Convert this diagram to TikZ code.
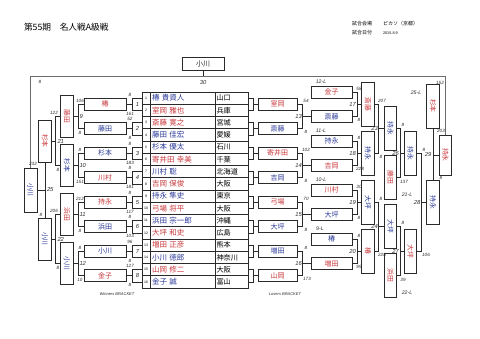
\documentclass[tikz,border=0pt]{standalone}
\usepackage{fontspec}
\usepackage{graphicx}
\setmainfont{Liberation Serif}
\newfontfamily\jp{Noto Sans CJK JP}
\newfontfamily\lsans{Liberation Sans}
\definecolor{rd}{HTML}{C8383C}
\definecolor{bl}{HTML}{2B3A97}
\definecolor{ln}{HTML}{2A2A2A}
\newcommand\vtx[2]{\rotatebox{-90}{\textcolor{#1}{#2}}}
\begin{document}
\begin{tikzpicture}[x=1pt,y=-1pt,
 every node/.style={inner sep=0pt,outer sep=0pt},
 cn/.style={draw=ln,line width=0.65pt},
 outerln/.style={draw=gray!85!black,line width=1.2pt},
 hb/.style={draw=ln,line width=0.8pt,minimum width=42pt,minimum height=12pt,font=\jp\fontsize{7}{7}\selectfont},
 lb/.style={hb,minimum width=39pt},
 rb/.style={hb,minimum width=41pt},
 vb/.style={draw=ln,line width=0.8pt,minimum width=12.5pt,minimum height=44pt,font=\jp\fontsize{6.8}{6.8}\selectfont},
 vbs/.style={vb,minimum height=42pt},
 sc/.style={font=\lsans\itshape\fontsize{4.6}{4.6}\selectfont,text=ln},
 mn/.style={font=\lsans\itshape\fontsize{5.8}{5.8}\selectfont,text=ln},
 lt/.style={font=\lsans\itshape\fontsize{5.2}{5.2}\selectfont,text=ln},
 numc/.style={draw=ln,line width=0.65pt,minimum width=8pt,minimum height=12.25pt,font=\lsans\fontsize{3.5}{3.5}\selectfont},
 namec/.style={draw=ln,line width=0.65pt,minimum width=65pt,minimum height=12.25pt,text width=61pt,align=left,font=\jp\fontsize{7.5}{7.5}\selectfont},
 prefc/.style={draw=ln,line width=0.65pt,minimum width=33pt,minimum height=12.25pt,text width=30pt,align=left,font=\jp\fontsize{7.2}{7.2}\selectfont},
]
\fill[white] (0,0) rectangle (480,339);
\useasboundingbox (0,0) rectangle (480,339);

% header
\node[anchor=west,font=\jp\fontsize{8.7}{8.7}\selectfont] (title) at (24,27) {第55期　名人戦A級戦};
\node[anchor=west,font=\jp\fontsize{5}{5}\selectfont] (h1) at (352,24) {試合会場};
\node[anchor=west,font=\jp\fontsize{5}{5}\selectfont] (h2) at (383,24) {ピカソ（京都）};
\node[anchor=west,font=\jp\fontsize{5}{5}\selectfont] (h3) at (352,33) {試合日付};
\node[anchor=west,font=\lsans\fontsize{3.8}{3.8}\selectfont] (h4) at (383,33) {2015.8.9};

% table
\foreach \i/\nm/\pf/\c in {1/椿 貴資人/山口/bl,2/室岡 雅也/兵庫/rd,3/斎藤 寛之/宮城/rd,4/藤田 佳宏/愛媛/bl,5/杉本 優太/石川/bl,6/寄井田 幸美/千葉/rd,7/川村 聡/北海道/bl,8/吉岡 保俊/大阪/rd,9/持永 隼史/東京/bl,10/弓場 将平/大阪/rd,11/浜田 宗一郎/沖縄/bl,12/大坪 和史/広島/rd,13/増田 正彦/熊本/rd,14/小川 徳郎/神奈川/bl,15/山岡 修二/大阪/rd,16/金子 誠/富山/bl}{
  \pgfmathsetmacro\yy{92+12.25*(\i-0.5)}
  \node[numc] (n\i) at (146,\yy) {\i};
  \node[namec,text=\c] (p\i) at (182.5,\yy) {\nm};
  \node[prefc] (q\i) at (231.5,\yy) {\pf};
}

% winners round 1 boxes
\foreach \k/\nm/\c in {1/椿/rd,2/藤田/bl,3/杉本/bl,4/川村/rd,5/持永/rd,6/浜田/bl,7/小川/bl,8/金子/rd}{
  \pgfmathsetmacro\yy{79.75+24.5*\k}
  \node[hb,text=\c] (w\k) at (105,\yy) {\nm};
  \node[mn] (mn\k) at (137.5,\yy) {\k};
}
% losers round 1 boxes
\foreach \k/\nm/\c in {1/室岡/rd,2/斎藤/bl,3/寄井田/rd,4/吉岡/bl,5/弓場/rd,6/大坪/bl,7/増田/bl,8/山岡/rd}{
  \pgfmathsetmacro\yy{79.75+24.5*\k}
  \node[lb,text=\c] (l\k) at (277.5,\yy) {\nm};
}
\foreach \k in {1,...,8}{
  \pgfmathtruncatemacro\a{2*\k-1}
  \pgfmathtruncatemacro\b{2*\k}
  \draw[cn] (n\a.west) -- ++(-10,0) coordinate (jl\k) |- (n\b.west);
  \draw[cn] (w\k.east) -- (w\k.east -| jl\k);
  \draw[cn] (q\a.east) -- ++(5,0) coordinate (jr\k) |- (q\b.east);
  \draw[cn] (l\k.west) -- (l\k.west -| jr\k);
}

% winners round 2
\node[vbs] (m9) at (67,116.5) {\vtx{rd}{藤田}};
\node[vbs] (m10) at (67,165.5) {\vtx{bl}{杉本}};
\node[vbs] (m11) at (67,214.5) {\vtx{rd}{浜田}};
\node[vbs] (m12) at (67,263.5) {\vtx{bl}{小川}};
\draw[cn] (w1.west) -- ++(-6,0) coordinate (j9) |- (w2.west);
\draw[cn] (m9.east) -- (m9.east -| j9);
\draw[cn] (w3.west) -- ++(-6,0) coordinate (j10) |- (w4.west);
\draw[cn] (m10.east) -- (m10.east -| j10);
\draw[cn] (w5.west) -- ++(-6,0) coordinate (j11) |- (w6.west);
\draw[cn] (m11.east) -- (m11.east -| j11);
\draw[cn] (w7.west) -- ++(-6,0) coordinate (j12) |- (w8.west);
\draw[cn] (m12.east) -- (m12.east -| j12);

% winners round 3
\node[vbs] (m21) at (45,141) {\vtx{rd}{杉本}};
\node[vbs] (m22) at (45,239) {\vtx{bl}{小川}};
\draw[cn] (m9.west) -- ++(-5,0) coordinate (j21) |- (m10.west);
\draw[cn] (m21.east) -- (m21.east -| j21);
\draw[cn] (m11.west) -- ++(-5,0) coordinate (j22) |- (m12.west);
\draw[cn] (m22.east) -- (m22.east -| j22);

% winners final
\node[vb,minimum width=13pt] (m25) at (30.5,190) {\vtx{bl}{小川}};
\draw[cn] (m21.south) -- (m22.north);
\draw[cn] (m25.east) -- (m25.east -| m21.south);

% losers side
\node[rb,text=rd] (x12) at (331.5,92) {金子};
\node[rb,text=bl] (r13) at (331.5,116.5) {斎藤};
\node[rb,text=bl] (x11) at (331.5,141) {持永};
\node[rb,text=rd] (r14) at (331.5,165.5) {吉岡};
\node[rb,text=rd] (x10) at (331.5,190) {川村};
\node[rb,text=bl] (r15) at (331.5,214.5) {大坪};
\node[rb,text=bl] (x9) at (331.5,239) {椿};
\node[rb,text=rd] (r16) at (331.5,263.5) {増田};
\draw[cn] (l1.east) -- ++(5,0) coordinate (j13) |- (l2.east);
\draw[cn] (r13.west) -- (r13.west -| j13);
\draw[cn] (l3.east) -- ++(5,0) coordinate (j14) |- (l4.east);
\draw[cn] (r14.west) -- (r14.west -| j14);
\draw[cn] (l5.east) -- ++(5,0) coordinate (j15) |- (l6.east);
\draw[cn] (r15.west) -- (r15.west -| j15);
\draw[cn] (l7.east) -- ++(5,0) coordinate (j16) |- (l8.east);
\draw[cn] (r16.west) -- (r16.west -| j16);

\node[vb] (m17) at (368,104.25) {\vtx{rd}{斎藤}};
\node[vb] (m18) at (368,153.25) {\vtx{bl}{持永}};
\node[vb] (m19) at (368,202.25) {\vtx{bl}{大坪}};
\node[vb] (m20) at (368,251.25) {\vtx{rd}{椿}};
\draw[cn] (x12.east) -- ++(5,0) coordinate (j17) |- (r13.east);
\draw[cn] (m17.west) -- (m17.west -| j17);
\draw[cn] (x11.east) -- ++(5,0) coordinate (j18) |- (r14.east);
\draw[cn] (m18.west) -- (m18.west -| j18);
\draw[cn] (x10.east) -- ++(5,0) coordinate (j19) |- (r15.east);
\draw[cn] (m19.west) -- (m19.west -| j19);
\draw[cn] (x9.east) -- ++(5,0) coordinate (j20) |- (r16.east);
\draw[cn] (m20.west) -- (m20.west -| j20);

\node[vb] (m23) at (390.5,128.75) {\vtx{bl}{持永}};
\node[vb] (y21) at (390.5,177.75) {\vtx{rd}{藤田}};
\node[vb] (m24) at (390.5,226.75) {\vtx{bl}{大坪}};
\node[vb] (y22) at (390.5,275.75) {\vtx{rd}{浜田}};
\draw[cn] (m17.east) -- ++(4,0) coordinate (j23) |- (m18.east);
\draw[cn] (m23.west) -- (m23.west -| j23);
\draw[cn] (m19.east) -- ++(4,0) coordinate (j24) |- (m20.east);
\draw[cn] (m24.west) -- (m24.west -| j24);

\node[vb] (m26) at (410.5,153.25) {\vtx{bl}{持永}};
\node[vb] (m27) at (410.5,251.25) {\vtx{rd}{大坪}};
\draw[cn] (m23.east) -- ++(3.5,0) coordinate (j26) |- (y21.east);
\draw[cn] (m26.west) -- (m26.west -| j26);
\draw[cn] (m24.east) -- ++(3.5,0) coordinate (j27) |- (y22.east);
\draw[cn] (m27.west) -- (m27.west -| j27);

\node[vb] (y25) at (433,106) {\vtx{rd}{杉本}};
\node[vb] (m28) at (433,202.25) {\vtx{bl}{持永}};
\draw[cn] (m26.east) -- ++(5,0) coordinate (j28) |- (m27.east);
\draw[cn] (m28.west) -- (m28.west -| j28);

\node[vb,minimum height=40pt] (m29) at (445.5,155) {\vtx{rd}{持永}};
\draw[cn] (y25.south) -- (m28.north);
\draw[cn] (m29.west) -- (m29.west -| y25.south);

% final
\node[hb,minimum height=13pt,text=ln] (fin) at (203,63.5) {小川};
\coordinate (top) at (203,76.5);
\draw[outerln] (m25.north) |- (top) -| (m29.north);
\draw[cn] (fin.south) -- (top);

% scores, winners round 1
\node[sc] (a1) at (130,94.6) {8};   \node[sc] (b1) at (130,113.9) {161};
\node[sc] (a2) at (130,119.1) {52};  \node[sc] (b2) at (130,138.4) {8};
\node[sc] (a3) at (130,143.6) {8};   \node[sc] (b3) at (130,162.9) {183};
\node[sc] (a4) at (130,168.1) {8};   \node[sc] (b4) at (130,187.4) {181};
\node[sc] (a5) at (130,192.6) {8};   \node[sc] (b5) at (130,211.9) {117};
\node[sc] (a6) at (130,217.1) {8};   \node[sc] (b6) at (130,236.4) {103};
\node[sc] (a7) at (130,241.6) {96};  \node[sc] (b7) at (130,260.9) {8};
\node[sc] (a8) at (130,266.1) {127}; \node[sc] (b8) at (130,285.4) {8};
% winners round 2
\node[sc] (a9) at (80,100.5) {106};  \node[mn,anchor=west] (mn9) at (79.5,116.5) {9};   \node[sc] (b9) at (80,132.5) {8};
\node[sc] (a10) at (80,149.5) {8};   \node[mn,anchor=west] (mn10) at (79.5,165.5) {10}; \node[sc] (b10) at (80,181.5) {151};
\node[sc] (a11) at (80,198.5) {212}; \node[mn,anchor=west] (mn11) at (79.5,214.5) {11}; \node[sc] (b11) at (80,230.5) {8};
\node[sc] (a12) at (80,247.5) {8};   \node[mn,anchor=west] (mn12) at (79.5,263.5) {12}; \node[sc] (b12) at (80,279.5) {10};
% winners round 3 and final
\node[sc] (a21) at (54,112.5) {122}; \node[mn,anchor=west] (mn21) at (57.5,141) {21}; \node[sc] (b21) at (58,169.5) {8};
\node[sc] (a22) at (54,211) {206};   \node[mn,anchor=west] (mn22) at (57.5,239) {22}; \node[sc] (b22) at (58,267.5) {8};
\node[sc] (a25) at (33,164) {232};   \node[mn,anchor=west] (mn25) at (47,190) {25};   \node[sc] (b25) at (41,215) {8};
\node[sc] (a30) at (40,82) {8}; \node[mn] (mn30) at (203,83) {30}; \node[sc] (b30) at (440,83) {152};
% losers round 1
\node[sc] (a13) at (306,100.7) {54};  \node[mn] (mn13) at (298.5,116.5) {13}; \node[sc] (b13) at (306,132.3) {8};
\node[sc] (a14) at (306,149.7) {102}; \node[mn] (mn14) at (298.5,165.5) {14}; \node[sc] (b14) at (306,181.3) {8};
\node[sc] (a15) at (306,198.7) {70};  \node[mn] (mn15) at (298.5,214.5) {15}; \node[sc] (b15) at (306,230.3) {8};
\node[sc] (a16) at (306,247.7) {8};   \node[mn] (mn16) at (298.5,263.5) {16}; \node[sc] (b16) at (307,279.3) {173};
% losers round 2
\node[sc] (a17) at (359,88.5) {58};  \node[mn] (mn17) at (352.5,104.25) {17}; \node[sc] (b17) at (359,120) {8};
\node[sc] (a18) at (359,137.5) {8};  \node[mn] (mn18) at (352.5,153.25) {18}; \node[sc] (b18) at (360,169) {228};
\node[sc] (a19) at (359,186.5) {30}; \node[mn] (mn19) at (352.5,202.25) {19}; \node[sc] (b19) at (359,218) {8};
\node[sc] (a20) at (359,235.5) {8};  \node[mn] (mn20) at (352.5,251.25) {20}; \node[sc] (b20) at (359,267) {99};
% losers later rounds
\node[sc] (a23) at (382,100.5) {207}; \node[mn] (mn23) at (374.5,128.75) {23}; \node[sc] (b23) at (381,157) {8};
\node[sc] (a24) at (381,198.5) {8};   \node[mn] (mn24) at (374.5,226.75) {24}; \node[sc] (b24) at (382,255) {228};
\node[sc] (a26) at (403,125) {8};     \node[mn] (mn26) at (395.5,153.25) {26}; \node[sc] (b26) at (404,181.5) {137};
\node[sc] (a27) at (403,223) {8};     \node[mn] (mn27) at (395.5,251.25) {27}; \node[sc] (b27) at (403,279.5) {39};
\node[sc] (a28) at (424,149.5) {8};   \node[mn] (mn28) at (417,202.25) {28};   \node[sc] (b28) at (426,255) {106};
\node[sc] (a29) at (441,131) {203};   \node[mn] (mn29) at (428,155) {29};      \node[sc] (b29) at (441,178) {8};
% loser-from labels
\node[lt] (t12) at (321,82) {12-L};
\node[lt] (t11) at (321,131) {11-L};
\node[lt] (t10) at (321,180) {10-L};
\node[lt] (t9) at (320,229) {9-L};
\node[lt] (t25) at (416,93) {25-L};
\node[lt] (t21) at (407,195) {21-L};
\node[lt] (t22) at (407,293) {22-L};
% bracket captions
\node[font=\lsans\itshape\fontsize{4}{4}\selectfont,text=ln] (cw) at (117,294) {Winners BRACKET};
\node[font=\lsans\itshape\fontsize{4}{4}\selectfont,text=ln] (cl) at (285,294) {Losers BRACKET};
\end{tikzpicture}
\end{document}
